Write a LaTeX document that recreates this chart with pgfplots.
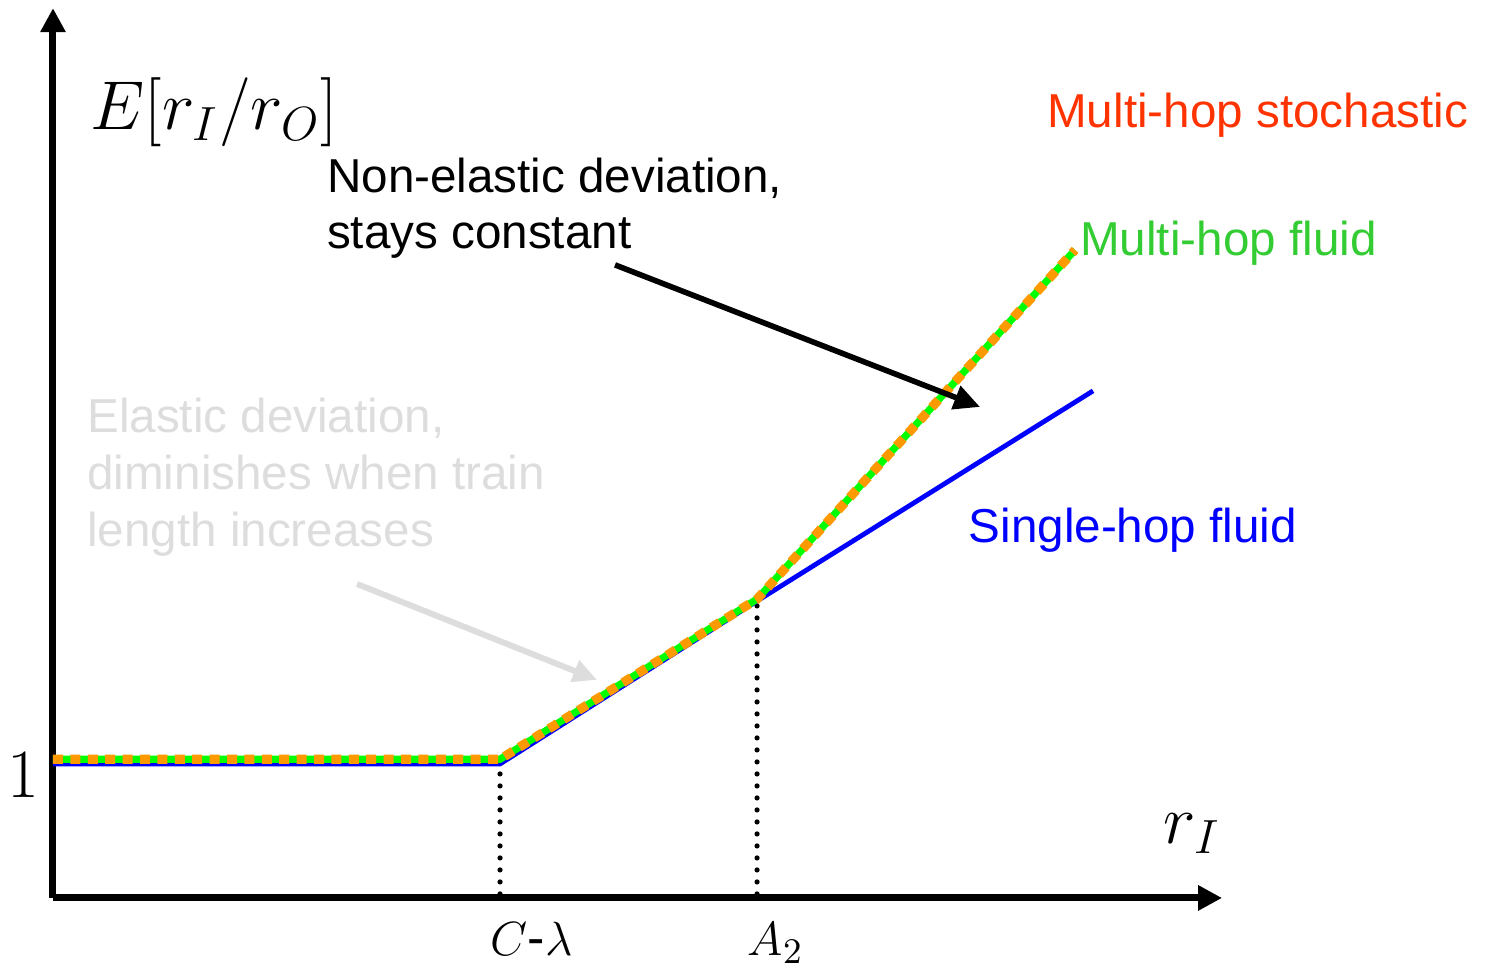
\documentclass[border=0pt]{standalone}
\usepackage{pgfplots}
\pgfplotsset{compat=1.18}
\usepackage{fontspec}
\setmainfont{Liberation Sans}
\usetikzlibrary{arrows.meta}

\definecolor{singleblue}{RGB}{0,0,255}
\definecolor{fluidgreen}{RGB}{0,255,0}
\definecolor{stochorange}{RGB}{255,153,0}
\definecolor{stochlabel}{RGB}{255,51,0}
\definecolor{fluidlabel}{RGB}{51,204,51}
\definecolor{softgray}{RGB}{221,221,221}

\begin{document}
\begin{tikzpicture}
\begin{axis}[
  x=33.5pt, y=33.5pt,
  xmin=0, xmax=8.724, ymin=0, ymax=6.64,
  axis lines=left,
  axis line style={line width=1.75pt, -{Triangle[length=6pt,width=6pt]}},
  xtick={3.336,5.254},
  xticklabels={$C$-$\lambda$,$A_2$},
  ytick={1},
  yticklabels={$1$},
  major tick length=0pt,
  xticklabel style={font=\fontsize{13}{13}\selectfont, anchor=base west, inner sep=0pt, xshift=-2.5pt, yshift=-14.5pt},
  yticklabel style={font=\fontsize{17}{17}\selectfont, anchor=center, inner sep=0pt, xshift=-7.5pt, yshift=-2.75pt},
  clip=false,
]
% dotted guides down to the breakpoints
\addplot[black, line width=1.3pt, line cap=round, dash pattern=on 0pt off 3pt]
  coordinates {(3.336,0.03) (3.336,1)};
\addplot[black, line width=1.3pt, line cap=round, dash pattern=on 0pt off 3pt]
  coordinates {(5.254,0.03) (5.254,2.216)};

% single-hop fluid
\addplot[singleblue, line width=1.2pt]
  coordinates {(0,1) (3.336,1) (5.254,2.216) (7.761,3.784)};
% multi-hop fluid
\addplot[fluidgreen, line width=1.8pt]
  coordinates {(0,1.035) (3.336,1.035) (5.254,2.23) (7.627,4.836)};
% multi-hop stochastic
\addplot[stochorange, line width=2.3pt, dash pattern=on 2.5pt off 1.85pt]
  coordinates {(0,1.035) (3.336,1.035) (5.254,2.23) (7.627,4.836)};

% axis labels
\node[anchor=base west, inner sep=0pt, font=\fontsize{16.5}{16.5}\selectfont]
  at (axis cs:0.276,5.731) {$E[r_I/r_O]$};
\node[anchor=base west, inner sep=0pt, font=\fontsize{18}{18}\selectfont]
  at (axis cs:8.284,0.41) {$r_I$};

% curve names
\begin{scope}[font=\fontsize{11.9}{11.9}\selectfont]
\node[anchor=base west, inner sep=0pt, text=stochlabel] at (axis cs:7.414,5.746) {Multi-hop stochastic};
\node[anchor=base west, inner sep=0pt, text=fluidlabel] at (axis cs:7.660,4.791) {Multi-hop fluid};
\node[anchor=base west, inner sep=0pt, text=singleblue] at (axis cs:6.828,2.649) {Single-hop fluid};

% annotations
\node[anchor=base west, inner sep=0pt] at (axis cs:2.04,5.261) {Non-elastic deviation,};
\node[anchor=base west, inner sep=0pt] at (axis cs:2.04,4.843) {stays constant};
\node[anchor=base west, inner sep=0pt, text=softgray] at (axis cs:0.25,3.470) {Elastic deviation,};
\node[anchor=base west, inner sep=0pt, text=softgray] at (axis cs:0.25,3.045) {diminishes when train};
\node[anchor=base west, inner sep=0pt, text=softgray] at (axis cs:0.25,2.619) {length increases};
\end{scope}

\draw[black, line width=1.4pt, -{Triangle[length=6.5pt,width=6pt]}]
  (axis cs:4.194,4.724) -- (axis cs:6.918,3.664);
\draw[softgray, line width=1.5pt, -{Triangle[length=6pt,width=5.5pt]}]
  (axis cs:2.269,2.343) -- (axis cs:4.060,1.627);

\coordinate (bbsw) at (axis cs:-0.3955,-0.5373);
\coordinate (bbne) at (axis cs:10.746,6.701);
\end{axis}
\pgfresetboundingbox
\path[use as bounding box] (bbsw) rectangle (bbne);
\end{tikzpicture}
\end{document}
